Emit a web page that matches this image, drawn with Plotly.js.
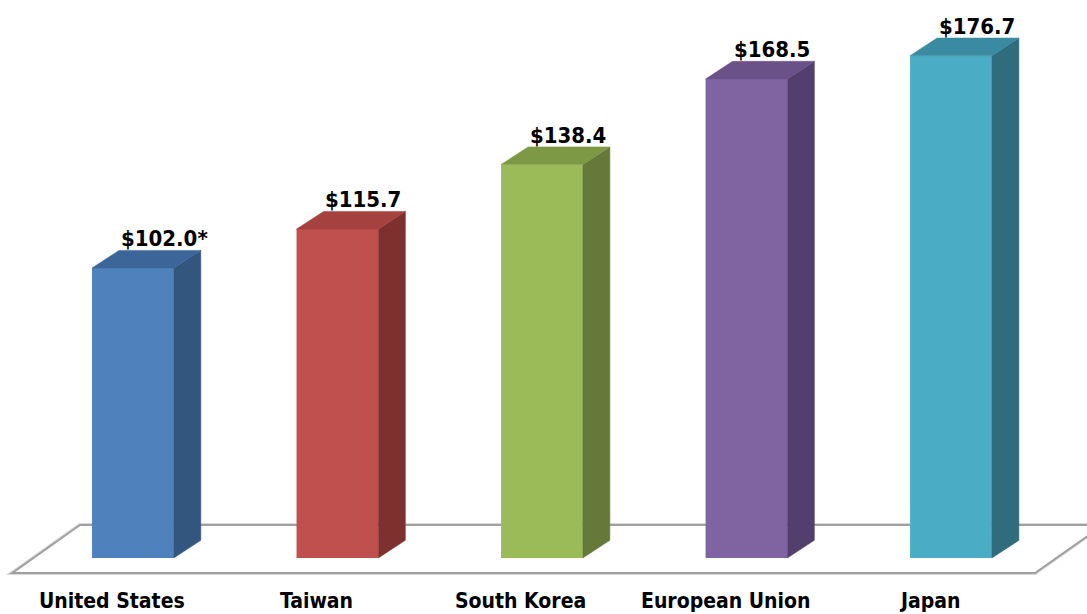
<!DOCTYPE html>
<html>
<head>
<meta charset="utf-8">
<script src="https://cdn.plot.ly/plotly-3.0.1.min.js"></script>
<style>html,body{margin:0;padding:0;background:#fff;}#chart{width:1087px;height:614px;}</style>
</head>
<body>
<div id="chart"></div>
<script>
// ---- data ----
const categories = ['United States', 'Taiwan', 'South Korea', 'European Union', 'Japan'];
const values = [102.0, 115.7, 138.4, 168.5, 176.7];
const valueNotes = ['*', '', '', '', ''];

// ---- style ----
const frontColors = ['#4F81BD', '#C0504D', '#9BBB59', '#8064A2', '#4BACC6'];
const sideColors  = ['#33567F', '#7E302E', '#66793A', '#523F6D', '#2F6D7D'];
const topColors   = ['#3C6699', '#A4423F', '#7D9945', '#6A5289', '#3A8BA1'];
const fontFamily = '"DejaVu Sans Condensed", "DejaVu Sans", sans-serif';

const barWidth = 0.40;   // x units
const depthX = 0.132;    // x units
const depthY = 6.2;      // y units
const xRange = [-0.650, 4.665];
const yRange = [-19.7, 196.27];

const xs = categories.map((_, i) => i);
const traces = [];

// front faces
traces.push({
  type: 'bar', x: xs, y: values, width: barWidth,
  marker: {color: frontColors, line: {width: 0}},
  hoverinfo: 'skip'
});

// side and top faces
values.forEach((v, i) => {
  const xl = i - barWidth / 2, xr = i + barWidth / 2;
  traces.push({
    type: 'scatter', mode: 'lines', fill: 'toself',
    x: [xr, xr, xr + depthX, xr + depthX, xr],
    y: [0, v, v + depthY, depthY, 0],
    fillcolor: sideColors[i], line: {color: sideColors[i], width: 0.5},
    hoverinfo: 'skip'
  });
  traces.push({
    type: 'scatter', mode: 'lines', fill: 'toself',
    x: [xl, xr, xr + depthX, xl + depthX, xl],
    y: [v, v, v + depthY, v + depthY, v],
    fillcolor: topColors[i], line: {color: topColors[i], width: 0.5},
    hoverinfo: 'skip'
  });
});

// floor (decoration)
const floorFrontY = -5.3, floorBackY = 11.6;
const floorFrontLeft = -0.591, floorBackLeft = -0.259;
const floorFrontRight = 4.411, floorBackRight = 4.744;
const floorPath = `M ${floorFrontLeft} ${floorFrontY} L ${floorBackLeft} ${floorBackY} L ${floorBackRight} ${floorBackY} L ${floorFrontRight} ${floorFrontY} Z`;

const annotations = [];
values.forEach((v, i) => {
  annotations.push({
    x: i, y: v + depthY, xref: 'x', yref: 'y',
    text: '$' + v.toFixed(1) + valueNotes[i],
    showarrow: false, xanchor: 'left', yanchor: 'bottom',
    xshift: -14, yshift: -3,
    font: {family: fontFamily, size: 22, color: '#000', weight: 'bold'}
  });
  annotations.push({
    x: i, y: 0, xref: 'x', yref: 'paper',
    text: categories[i],
    showarrow: false, xanchor: 'center', yanchor: 'bottom',
    xshift: -21, borderpad: 0,
    font: {family: fontFamily, size: 21, color: '#000', weight: 'bold'}
  });
});

const layout = {
  width: 1087, height: 614,
  margin: {l: 0, r: 0, t: 0, b: 0},
  paper_bgcolor: '#fff', plot_bgcolor: '#fff',
  showlegend: false,
  xaxis: {range: xRange, visible: false, fixedrange: true},
  yaxis: {range: yRange, visible: false, fixedrange: true},
  shapes: [
    {type: 'path', path: floorPath, xref: 'x', yref: 'y', layer: 'below',
     line: {color: '#D8D8D8', width: 4}, fillcolor: 'rgba(0,0,0,0)'},
    {type: 'path', path: floorPath, xref: 'x', yref: 'y', layer: 'below',
     line: {color: '#A0A0A0', width: 2}, fillcolor: '#fff'}
  ],
  annotations: annotations
};

Plotly.newPlot('chart', traces, layout, {displayModeBar: false, staticPlot: true});
</script>
</body>
</html>
